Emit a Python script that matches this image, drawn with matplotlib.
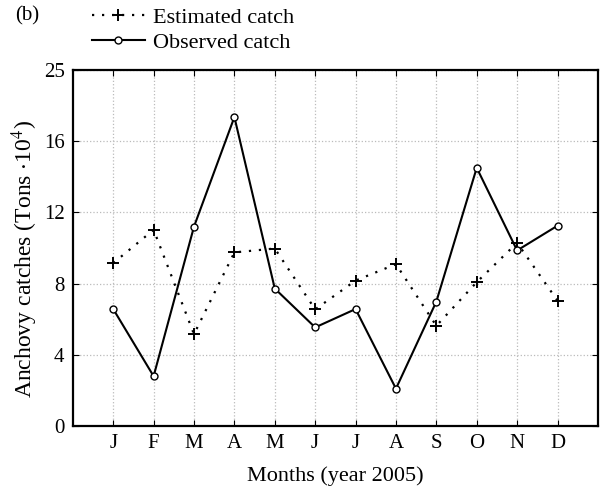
import numpy as np
from matplotlib import pyplot as plt

months = ['J', 'F', 'M', 'A', 'M', 'J', 'J', 'A', 'S', 'O', 'N', 'D']
observed = [6.57, 2.80, 11.2, 17.35, 7.72, 5.54, 6.57, 2.10, 6.99, 14.5, 9.86, 11.25]
estimated = [9.15, 11.02, 5.16, 9.75, 9.97, 6.55, 8.17, 9.09, 5.63, 8.08, 10.29, 7.04]
yticks = [0, 4, 8, 12, 16, 20]
ytick_labels = ['0', '4', '8', '12', '16', '25']

plt.rcParams['font.family'] = ['Liberation Serif', 'DejaVu Serif']
plt.rcParams['mathtext.fontset'] = 'stix'

fig = plt.figure(figsize=(6.07, 4.92), dpi=100)
ax = fig.add_axes([0.120, 0.134, 0.865, 0.724])

x = np.arange(1, len(months) + 1)
est_line, = ax.plot(x, estimated, color='black', linestyle=(0, (1, 3.5)), linewidth=1.6,
                    marker='+', markersize=9, markeredgewidth=1.4)
obs_line, = ax.plot(x, observed, color='black', linestyle='-', linewidth=1.5,
                    marker='o', markersize=5, markerfacecolor='white', markeredgewidth=1.0)

ax.set_xlim(0, 13)
ax.set_ylim(0, 20)
ax.set_xticks(x)
ax.set_xticklabels(months, fontsize=15)
ax.set_yticks(yticks)
ax.set_yticklabels(ytick_labels, fontsize=15)
ax.tick_params(direction='in', length=4, width=0.8, top=True, right=True, pad=6)
ax.grid(True, color='#bbbbbb', linestyle=':', linewidth=0.9)
for s in ax.spines.values():
    s.set_linewidth(1.6)

ax.set_xlabel('Months (year 2005)', fontsize=16, labelpad=9)
ax.set_ylabel(r'Anchovy catches (Tons $\cdot$10$^4$)', fontsize=17)
ax.yaxis.set_label_coords(-0.063, 0.47)

fig.text(0.025, 0.968, '(b)', fontsize=15, va='center')
fig.legend([est_line, obs_line], ['Estimated catch', 'Observed catch'],
           loc='upper left', bbox_to_anchor=(0.118, 1.025), frameon=False,
           fontsize=16, handlelength=2.4, handletextpad=0.35, labelspacing=0.2)

fig.savefig('out.png', dpi=100)
